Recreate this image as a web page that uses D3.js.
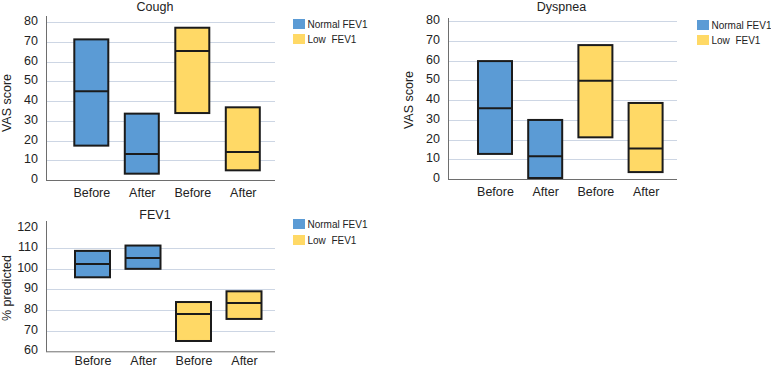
<!DOCTYPE html>
<html>
<head>
<meta charset="utf-8">
<script src="https://cdn.jsdelivr.net/npm/d3@7/dist/d3.min.js"></script>
<style>
  html, body { margin: 0; padding: 0; background: #ffffff; }
  svg { display: block; }
  text { font-family: "Liberation Sans", Arial, Helvetica, sans-serif; fill: #222; }
</style>
</head>
<body>
<svg id="chart" width="771" height="368"></svg>
<script>
// ---- data ----
const categories = ["Before", "After", "Before", "After"];
const boxGroups = ["Normal FEV1", "Normal FEV1", "Low  FEV1", "Low  FEV1"];
const legendLabels = ["Normal FEV1", "Low  FEV1"];

const coughLow    = [17.4, 3.2, 33.9, 4.9];
const coughMedian = [44.9, 13.2, 65.3, 14.2];
const coughHigh   = [71.2, 33.6, 77.1, 36.8];

const dyspneaLow    = [12.7, 0.5, 21.1, 3.5];
const dyspneaMedian = [35.8, 11.5, 49.8, 15.4];
const dyspneaHigh   = [59.7, 29.9, 67.8, 38.5];

const fev1Low    = [95.9, 100.0, 65.0, 75.7];
const fev1Median = [102.4, 105.3, 78.1, 83.4];
const fev1High   = [108.7, 111.3, 83.9, 89.1];

const vasTicks  = [0, 10, 20, 30, 40, 50, 60, 70, 80];
const fev1Ticks = [60, 70, 80, 90, 100, 110, 120];

// ---- styling ----
const colors = { "Normal FEV1": "#5b9bd5", "Low  FEV1": "#ffd966" };
const svg = d3.select("#chart");

function drawPanel(p) {
  const g = svg.append("g");
  const y = d3.scaleLinear().domain(p.domain).range([p.yBottom, p.yTop]);
  const x = d3.scalePoint().domain(d3.range(categories.length))
    .range([p.xAxis + p.firstOffset, p.xAxis + p.firstOffset + 3 * p.step]);

  // gridlines
  g.append("g").selectAll("line")
    .data(p.ticks.filter(t => t !== p.domain[0] && p.gridTicks.includes(t)))
    .join("line")
    .attr("x1", p.xAxis).attr("x2", p.xRight)
    .attr("y1", d => Math.round(y(d)) + 0.5).attr("y2", d => Math.round(y(d)) + 0.5)
    .attr("stroke", "#cdd6e4").attr("stroke-width", 1.2);

  // y axis via d3 axis
  const yAxis = d3.axisLeft(y).tickValues(p.ticks).tickSize(0).tickPadding(8);
  const ya = g.append("g").attr("transform", `translate(${p.xAxis},0)`).call(yAxis);
  ya.select(".domain").remove();
  ya.selectAll("text").attr("font-size", 12.5).attr("fill", "#222")
    .attr("font-family", "Liberation Sans, Arial, sans-serif").attr("dy", "0.2em");

  // axis lines
  g.append("line").attr("x1", p.xAxis + 0.5).attr("x2", p.xAxis + 0.5)
    .attr("y1", p.axisTop).attr("y2", p.yBottom + 0.5)
    .attr("stroke", "#6e6e6e").attr("stroke-width", 1);
  g.append("line").attr("x1", p.xAxis).attr("x2", p.xRight)
    .attr("y1", p.yBottom + 0.5).attr("y2", p.yBottom + 0.5)
    .attr("stroke", "#6e6e6e").attr("stroke-width", 1);

  // x axis labels via d3 axis
  const xAxis = d3.axisBottom(x).tickSize(0).tickPadding(p.xLabelPad).tickFormat(i => categories[i]);
  const xa = g.append("g").attr("transform", `translate(0,${p.yBottom})`).call(xAxis);
  xa.select(".domain").remove();
  xa.selectAll("text").attr("font-size", 12.5).attr("fill", "#222")
    .attr("font-family", "Liberation Sans, Arial, sans-serif");

  // boxes
  const bw = p.boxWidth;
  const idx = d3.range(categories.length);
  g.append("g").selectAll("rect").data(idx).join("rect")
    .attr("x", i => x(i) - bw / 2)
    .attr("y", i => y(p.high[i]))
    .attr("width", bw)
    .attr("height", i => y(p.low[i]) - y(p.high[i]))
    .attr("fill", i => colors[boxGroups[i]])
    .attr("stroke", "#1b1b1b").attr("stroke-width", 2);
  g.append("g").selectAll("line").data(idx).join("line")
    .attr("x1", i => x(i) - bw / 2).attr("x2", i => x(i) + bw / 2)
    .attr("y1", i => y(p.median[i])).attr("y2", i => y(p.median[i]))
    .attr("stroke", "#1b1b1b").attr("stroke-width", 2);

  // title
  g.append("text").attr("x", p.titleX).attr("y", p.titleY)
    .attr("text-anchor", "middle").attr("font-size", 12.5).text(p.title);

  // y label
  g.append("text")
    .attr("transform", `translate(${p.yLabelX},${p.yLabelY}) rotate(-90)`)
    .attr("text-anchor", "middle").attr("font-size", 12.5).text(p.yLabel);

  // legend
  const lg = g.append("g").attr("transform", `translate(${p.legendX},${p.legendY})`);
  legendLabels.forEach((lab, i) => {
    lg.append("rect").attr("x", 0).attr("y", i * p.legendStep)
      .attr("width", 12).attr("height", 10)
      .attr("fill", colors[lab]);
    lg.append("text").attr("x", 14.5).attr("y", i * p.legendStep + 9)
      .attr("font-size", 10).attr("xml:space", "preserve").style("white-space", "pre").text(lab);
  });
}

drawPanel({
  title: "Cough", yLabel: "VAS score",
  low: coughLow, median: coughMedian, high: coughHigh,
  domain: [0, 80], ticks: vasTicks, gridTicks: vasTicks,
  xAxis: 46, xRight: 275, yTop: 22, yBottom: 180, axisTop: 16,
  firstOffset: 45.3, step: 50.5, boxWidth: 34, xLabelPad: 8,
  titleX: 155, titleY: 11, yLabelX: 11, yLabelY: 103,
  legendX: 293, legendY: 19, legendStep: 15
});

drawPanel({
  title: "Dyspnea", yLabel: "VAS score",
  low: dyspneaLow, median: dyspneaMedian, high: dyspneaHigh,
  domain: [0, 80], ticks: vasTicks, gridTicks: vasTicks,
  xAxis: 448, xRight: 677, yTop: 21, yBottom: 179, axisTop: 18,
  firstOffset: 47, step: 50.2, boxWidth: 34, xLabelPad: 8,
  titleX: 561.5, titleY: 11, yLabelX: 413, yLabelY: 100,
  legendX: 697, legendY: 20, legendStep: 15
});

drawPanel({
  title: "FEV1", yLabel: "% predicted",
  low: fev1Low, median: fev1Median, high: fev1High,
  domain: [60, 120], ticks: fev1Ticks, gridTicks: [70, 80, 90, 100, 110],
  xAxis: 46, xRight: 275, yTop: 227.6, yBottom: 351.3, axisTop: 221,
  firstOffset: 46.5, step: 50.5, boxWidth: 35, xLabelPad: 5,
  titleX: 155, titleY: 219, yLabelX: 11, yLabelY: 288,
  legendX: 293, legendY: 219, legendStep: 16
});
</script>
</body>
</html>
